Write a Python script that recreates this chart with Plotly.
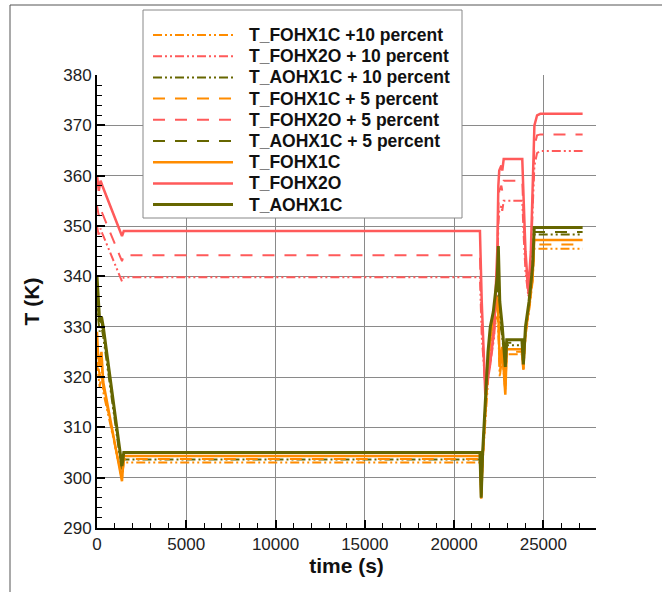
import plotly.graph_objects as go

# ---- data ----
t_red = [0, 100, 200, 300, 1400, 1500, 21450, 21550, 21750, 22000, 22250, 22420, 22480,
         22530, 22650, 22700, 22780, 23820, 23900, 24000, 24160, 24300, 24420, 24500,
         24650, 24830, 27200]
fohx2o = [360, 357, 359, 358, 348, 349, 349, 335, 316.5, 322, 330, 345, 358, 361, 362, 361,
          363.3, 363.3, 355, 345, 337, 345, 360, 370, 372, 372.3, 372.3]
fohx2o_5 = [354, 352, 353.5, 352.5, 343, 344.2, 344.2, 331, 317.5, 322, 329, 343, 354, 357,
            358, 357, 359, 359, 351, 343, 336.5, 344, 357, 366, 368, 368.2, 368.2]
fohx2o_10 = [350, 348, 349.5, 348.5, 339, 339.8, 339.8, 328, 318.5, 322, 328, 341, 350, 353,
             354, 353, 355, 355, 348, 341, 336, 343, 355, 362, 364.5, 364.9, 364.9]

t_warm = [0, 50, 150, 250, 350, 1400, 1500, 21450, 21520, 21600, 21900, 22030, 22200, 22420,
          22480, 22560, 22700, 22870, 22950, 23800, 23880, 24000, 24200, 24400, 24490, 27200]
aohx1c = [340, 336, 331, 332, 330, 302.3, 305, 305, 296, 305, 325, 330, 333, 340, 346, 335,
          330, 322, 327.4, 327.4, 322.5, 330, 335, 342, 349.7, 349.7]
aohx1c_5 = [338, 334, 330, 331, 329, 301.5, 304.3, 304.3, 296.5, 304.5, 324, 329, 332, 338,
            343, 333, 329, 321.5, 326.8, 326.8, 322.5, 329.5, 334.5, 341.5, 348.8, 348.8]
aohx1c_10 = [336, 332, 329, 330, 328, 301, 303.6, 303.6, 297, 304, 323, 328, 331, 336, 340,
             331, 328, 321, 326.3, 326.3, 322.5, 329, 334, 341, 348.3, 348.3]
fohx1c = [329, 325, 322, 325, 319, 299.3, 304.3, 304.3, 295.8, 304, 322, 328, 331, 336, 333,
          322, 326, 316.5, 325.5, 325.5, 321.5, 329, 334, 340, 347.2, 347.2]
fohx1c_5 = [326, 323, 320, 323, 318, 299.6, 303.7, 303.7, 296.3, 303.5, 321, 327, 330, 334,
            331, 321, 325, 317, 325, 325, 321.5, 328.5, 333.5, 339.5, 346.3, 346.3]
fohx1c_10 = [323, 321, 318, 321, 317, 300, 303.0, 303.0, 296.8, 303, 320, 326, 329, 332, 329,
             320, 324, 317.5, 324.5, 324.5, 321.5, 328, 333, 339, 345.5, 345.5]

x_title = "time (s)"
y_title = "T (K)"

ORANGE = "#ff8c00"
RED = "#ff5a5a"
OLIVE = "#666600"
DDOT = "9px,3px,2px,3px,2px,3px"
DASH = "12px,10px"

series = [
    ("T_FOHX1C +10 percent", t_warm, fohx1c_10, ORANGE, DDOT, 2),
    ("T_FOHX2O + 10 percent", t_red, fohx2o_10, RED, DDOT, 2),
    ("T_AOHX1C + 10 percent", t_warm, aohx1c_10, OLIVE, DDOT, 2),
    ("T_FOHX1C + 5 percent", t_warm, fohx1c_5, ORANGE, DASH, 2),
    ("T_FOHX2O + 5 percent", t_red, fohx2o_5, RED, DASH, 2),
    ("T_AOHX1C + 5 percent", t_warm, aohx1c_5, OLIVE, DASH, 2),
    ("T_FOHX1C", t_warm, fohx1c, ORANGE, "solid", 2.5),
    ("T_FOHX2O", t_red, fohx2o, RED, "solid", 2.5),
    ("T_AOHX1C", t_warm, aohx1c, OLIVE, "solid", 3),
]

fig = go.Figure()
for name, xs, ys, col, dash, w in series:
    fig.add_trace(go.Scatter(x=xs, y=ys, mode="lines", name=name, showlegend=False,
                             line=dict(color=col, dash=dash, width=w)))

FONT = "Liberation Sans, Arial, Helvetica, sans-serif"

# plot area in pixels: x 97..596, y 75..528
L, R, T, B = 97, 596, 75, 528
def px_x(p):
    return (p - L) / (R - L)
def px_y(p):
    return (B - p) / (B - T)

fig.update_layout(
    width=662, height=592,
    margin=dict(l=L, r=662 - R, t=T, b=592 - B),
    paper_bgcolor="white", plot_bgcolor="white",
    font=dict(family=FONT, color="#222", size=17),
    showlegend=False,
    xaxis=dict(
        range=[0, 27950], dtick=5000, tick0=0, tickformat="d",
        showline=True, linecolor="black", linewidth=2, mirror=False,
        ticks="inside", ticklen=8, tickwidth=2, tickcolor="black",
        minor=dict(dtick=1000, ticks="inside", ticklen=5, tickwidth=1, tickcolor="black",
                   showgrid=False),
        showgrid=True, gridcolor="#8a8a8a", gridwidth=1, zeroline=False,
        tickfont=dict(size=17, color="#222"),
        title=dict(text=x_title, font=dict(size=21, color="#111", weight="bold"), standoff=1),
    ),
    yaxis=dict(
        range=[290, 380], dtick=10, tick0=290,
        showline=True, linecolor="black", linewidth=2, mirror=False,
        ticks="inside", ticklen=8, tickwidth=2, tickcolor="black",
        minor=dict(dtick=2, ticks="inside", ticklen=5, tickwidth=1, tickcolor="black",
                   showgrid=False),
        showgrid=True, gridcolor="#8a8a8a", gridwidth=1, zeroline=False,
        tickfont=dict(size=17, color="#222"),
        title=dict(text=y_title, font=dict(size=21, color="#111", weight="bold"), standoff=18),
    ),
)

# legend box (drawn as shapes + text so its spacing matches the reference)
fig.add_shape(type="rect", xref="paper", yref="paper",
              x0=px_x(143), x1=px_x(462), y0=px_y(218), y1=px_y(10),
              fillcolor="white", line=dict(color="#888", width=1), layer="above")
for i, (name, xs, ys, col, dash, w) in enumerate(series):
    yc = 35 + 21.2 * i
    fig.add_shape(type="line", xref="paper", yref="paper",
                  x0=px_x(153), x1=px_x(233), y0=px_y(yc), y1=px_y(yc),
                  line=dict(color=col, dash=dash, width=w), layer="above")
    fig.add_annotation(xref="paper", yref="paper", x=px_x(247), y=px_y(yc),
                       xanchor="left", yanchor="middle", showarrow=False, text=name,
                       font=dict(family=FONT, size=17.5, color="#111", weight="bold"))

# page frame lines visible in the reference
fig.add_shape(type="line", xref="paper", yref="paper", x0=px_x(10), x1=px_x(700),
              y0=px_y(5), y1=px_y(5), line=dict(color="#555", width=1))
fig.add_shape(type="line", xref="paper", yref="paper", x0=px_x(10), x1=px_x(10),
              y0=px_y(5), y1=px_y(620), line=dict(color="#555", width=1))

fig.write_html("out.html")
